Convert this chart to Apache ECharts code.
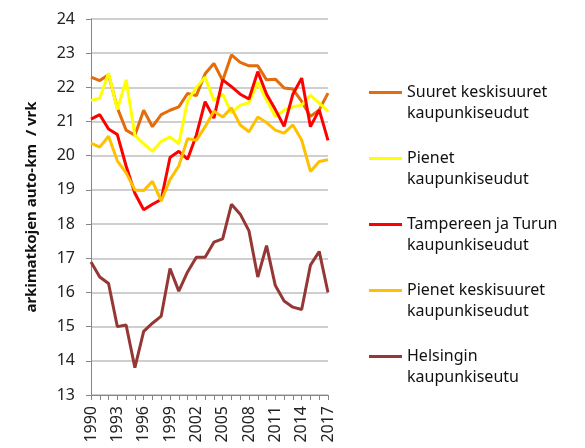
<!DOCTYPE html>
<html>
<head>
<meta charset="utf-8">
<script src="https://cdn.jsdelivr.net/npm/echarts@6/dist/echarts.min.js"></script>
<style>
  html, body { margin: 0; padding: 0; background: #fff; }
  #main { width: 585px; height: 448px; }
</style>
</head>
<body>
<div id="main"></div>
<script>
var years = ['1990', '1991', '1992', '1993', '1994', '1995', '1996', '1997', '1998', '1999',
	'2000', '2001', '2002', '2003', '2004', '2005', '2006', '2007', '2008', '2009',
	'2010', '2011', '2012', '2013', '2014', '2015', '2016', '2017'];

var seriesNames = [
	'Suuret keskisuuret\nkaupunkiseudut',
	'Pienet\nkaupunkiseudut',
	'Tampereen ja Turun\nkaupunkiseudut',
	'Pienet keskisuuret\nkaupunkiseudut',
	'Helsingin\nkaupunkiseutu'
];

var suuretKeskisuuret = [22.3, 22.2, 22.37, 21.4, 20.75, 20.6, 21.33, 20.85, 21.2, 21.33,
	21.43, 21.82, 21.76, 22.4, 22.7, 22.2, 22.95, 22.73, 22.63, 22.63,
	22.22, 22.24, 21.98, 21.95, 21.59, 21.15, 21.34, 21.83];
var pienet = [21.62, 21.68, 22.42, 21.35, 22.22, 20.6, 20.35, 20.13, 20.42, 20.55,
	20.35, 21.6, 22.0, 22.3, 21.62, 21.8, 21.25, 21.48, 21.55, 22.15,
	21.63, 21.15, 21.33, 21.43, 21.48, 21.77, 21.54, 21.3];
var tampereTurku = [21.07, 21.2, 20.78, 20.62, 19.7, 18.9, 18.42, 18.58, 18.72, 19.95,
	20.13, 19.9, 20.6, 21.58, 21.1, 22.22, 22.02, 21.8, 21.66, 22.46,
	21.8, 21.35, 20.86, 21.8, 22.27, 20.85, 21.34, 20.45];
var pienetKeskisuuret = [20.37, 20.25, 20.57, 19.85, 19.5, 19.0, 18.98, 19.25, 18.68, 19.3,
	19.7, 20.5, 20.45, 20.85, 21.3, 21.13, 21.4, 20.9, 20.7, 21.13,
	20.97, 20.75, 20.66, 20.9, 20.46, 19.54, 19.83, 19.88];
var helsinki = [16.89, 16.45, 16.26, 15.0, 15.05, 13.8, 14.86, 15.1, 15.31, 16.7,
	16.04, 16.6, 17.03, 17.03, 17.47, 17.57, 18.58, 18.29, 17.8, 16.45,
	17.37, 16.2, 15.75, 15.57, 15.5, 16.8, 17.2, 16.0];

var colors = ['#e46c0a', '#ffff00', '#ff0000', '#ffc000', '#953735'];
var values = [suuretKeskisuuret, pienet, tampereTurku, pienetKeskisuuret, helsinki];

var font = 'Noto Sans';
var myChart = echarts.init(document.getElementById('main'), null, { renderer: 'canvas' });

var series = [];
for (var i = 0; i < seriesNames.length; i++) {
	series.push({
		name: seriesNames[i],
		type: 'line',
		data: values[i],
		symbol: 'none',
		color: colors[i],
		lineStyle: { width: 3, color: colors[i] },
		z: 2
	});
}

var option = {
	animation: false,
	grid: { left: 91, right: 257, top: 19, bottom: 53 },
	legend: {
		orient: 'vertical',
		left: 364,
		top: 56,
		itemGap: 3,
		itemWidth: 33,
		itemHeight: 3,
		icon: 'rect',
		data: seriesNames,
		// empty first line so the icon sits level with the first text line
		formatter: function(name) {
			return ' \n' + name;
		},
		textStyle: {
			fontFamily: font,
			fontSize: 16,
			color: '#111',
			lineHeight: 21
		}
	},
	xAxis: {
		type: 'category',
		data: years,
		boundaryGap: false,
		axisLine: { lineStyle: { color: '#868686', width: 1 } },
		axisTick: { show: true, interval: 0, length: 5, lineStyle: { color: '#868686' } },
		axisLabel: {
			interval: 2,
			rotate: 90,
			fontFamily: font,
			fontSize: 16,
			color: '#222',
			margin: 11
		},
		splitLine: { show: false }
	},
	yAxis: {
		type: 'value',
		min: 13,
		max: 24,
		interval: 1,
		name: 'arkimatkojen auto-km  / vrk',
		nameLocation: 'middle',
		nameGap: 52,
		nameTextStyle: { fontFamily: font, fontSize: 15, fontWeight: 'bold', color: '#111' },
		axisLine: { show: true, lineStyle: { color: '#868686', width: 1 } },
		axisTick: { show: true, length: 5, lineStyle: { color: '#868686' } },
		axisLabel: { fontFamily: font, fontSize: 16, color: '#222', margin: 16 },
		splitLine: { lineStyle: { color: '#bfbfbf', width: 1.5 } }
	},
	series: series
};

myChart.setOption(option);
</script>
</body>
</html>
